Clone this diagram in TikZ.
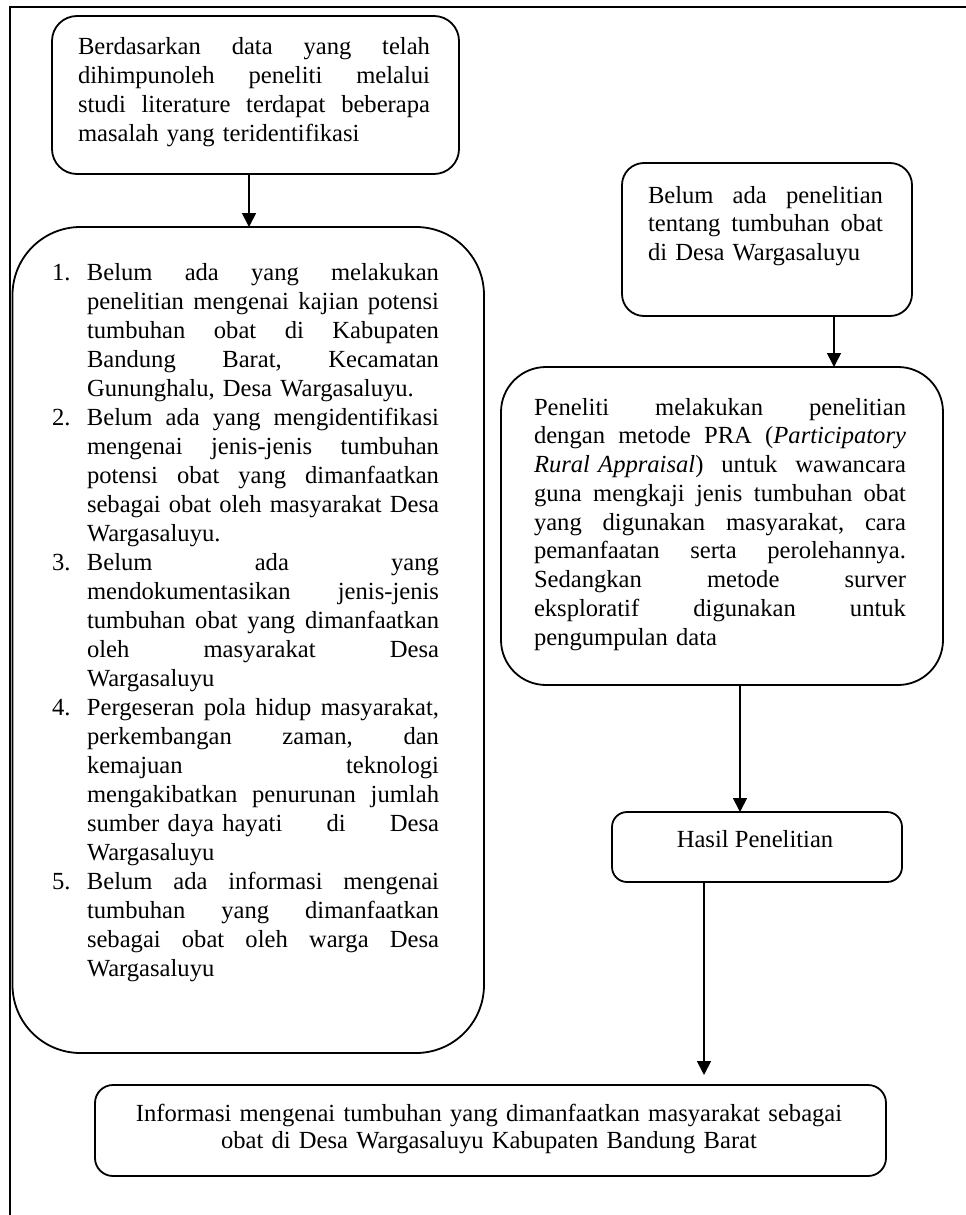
\documentclass[tikz,border=0pt]{standalone}
\usepackage{fontspec}
\setmainfont{Liberation Serif}
\usetikzlibrary{arrows.meta,calc}
\ExplSyntaxOn
\seq_new:N \l_rsk_words_seq
\cs_new_protected:Npn \rsk_spread:nn #1 #2
  {
    \seq_set_split:Nnn \l_rsk_words_seq { ~ } {#2}
    \hbox_to_wd:nn {#1} { \seq_use:Nn \l_rsk_words_seq { \hfill } }
  }
\NewDocumentCommand \spreadbox { m m } { \rsk_spread:nn {#1} {#2} }
\ExplSyntaxOff
% one justified line, one last (ragged) line
\newcommand\jline[1]{\noindent\spreadbox{\hsize}{#1}\par}
\newcommand\lastline[1]{\noindent\makebox[\hsize][l]{#1}\par}
% list lines: number column + justified / ragged text
\newcommand\itemjline[2]{\noindent\makebox[35pt][l]{#1}\spreadbox{352pt}{#2}\par}
\newcommand\itemlline[2]{\noindent\makebox[35pt][l]{#1}\makebox[352pt][l]{#2}\par}
\begin{document}
\begin{tikzpicture}[x=1pt,y=-1pt,
  shp/.style={draw, line width=1.8pt, inner sep=0pt, outer sep=0pt, anchor=north west},
  txt/.style={inner sep=0pt, outer sep=0pt, anchor=base west, font=\fontsize{24.6}{29}\selectfont},
  arr/.style={line width=1.7pt, -{Triangle[width=14pt,length=14pt]}},
  frm/.style={line width=1.8pt}]
\useasboundingbox (0,0) rectangle (966,1215);
\draw[frm] (10,1215) -- (10,7) -- (966,7);

% boxes
\node[shp, rounded corners=25pt, minimum width=407pt, minimum height=158pt] (b1) at (52,16) {};
\node[shp, rounded corners=68pt, minimum width=471.5pt, minimum height=826pt] (b2) at (12.5,227) {};
\node[shp, rounded corners=22pt, minimum width=290pt, minimum height=153pt] (b3) at (622,163) {};
\node[shp, rounded corners=45pt, minimum width=442pt, minimum height=318pt] (b4) at (501,367) {};
\node[shp, rounded corners=15pt, minimum width=290pt, minimum height=70pt] (hasil) at (612,812) {};
\node[shp, rounded corners=18pt, minimum width=791pt, minimum height=91pt] (fin) at (95,1085) {};

% texts
\node[txt, text width=352pt] (t1) at (78,55) {%
\jline{Berdasarkan data yang telah}
\jline{dihimpunoleh peneliti melalui}
\jline{studi literature terdapat beberapa}
\lastline{masalah yang teridentifikasi}};

\node[txt, text width=387pt] (t2) at (52,280) {%
\itemjline{1.}{Belum ada yang melakukan}
\itemjline{}{penelitian mengenai kajian potensi}
\itemjline{}{tumbuhan obat di Kabupaten}
\itemjline{}{Bandung Barat, Kecamatan}
\itemlline{}{Gununghalu, Desa Wargasaluyu.}
\itemjline{2.}{Belum ada yang mengidentifikasi}
\itemjline{}{mengenai jenis-jenis tumbuhan}
\itemjline{}{potensi obat yang dimanfaatkan}
\itemjline{}{sebagai obat oleh masyarakat Desa}
\itemlline{}{Wargasaluyu.}
\itemjline{3.}{Belum ada yang}
\itemjline{}{mendokumentasikan jenis-jenis}
\itemjline{}{tumbuhan obat yang dimanfaatkan}
\itemjline{}{oleh masyarakat Desa}
\itemlline{}{Wargasaluyu}
\itemjline{4.}{Pergeseran pola hidup masyarakat,}
\itemjline{}{perkembangan zaman, dan}
\itemjline{}{kemajuan teknologi}
\itemjline{}{mengakibatkan penurunan jumlah}
\itemjline{}{\mbox{sumber daya hayati} di Desa}
\itemlline{}{Wargasaluyu}
\itemjline{5.}{Belum ada informasi mengenai}
\itemjline{}{tumbuhan yang dimanfaatkan}
\itemjline{}{sebagai obat oleh warga Desa}
\itemlline{}{Wargasaluyu}};

\node[txt, text width=235pt, font=\fontsize{24.6}{28.5}\selectfont] (t3) at (648,203) {%
\jline{Belum ada penelitian}
\jline{tentang tumbuhan obat}
\lastline{di Desa Wargasaluyu}};

\node[txt, text width=372pt, font=\fontsize{24.6}{28.75}\selectfont] (t4) at (534,415) {%
\jline{Peneliti melakukan penelitian}
\jline{dengan metode PRA (\textit{Participatory}}
\jline{\textit{Rural Appraisal}) untuk wawancara}
\jline{guna mengkaji jenis tumbuhan obat}
\jline{yang digunakan masyarakat, cara}
\jline{pemanfaatan serta perolehannya.}
\jline{Sedangkan metode surver}
\jline{eksploratif digunakan untuk}
\lastline{pengumpulan data}};

\node[inner sep=0pt, anchor=base, font=\fontsize{24.6}{29}\selectfont] (t5) at (755,847) {Hasil Penelitian};

\node[inner sep=0pt, anchor=base, text width=780pt, align=center, font=\fontsize{24.6}{27}\selectfont] (t6) at (489,1121) {Informasi mengenai tumbuhan yang dimanfaatkan masyarakat sebagai\\ obat di Desa Wargasaluyu Kabupaten Bandung Barat};

% connectors
\coordinate (a1) at ([xshift=-6.5pt]b1.south);
\draw[arr] (a1) -- (a1 |- b2.north);
\coordinate (a2) at ([xshift=67pt]b3.south);
\draw[arr] (a2) -- (a2 |- b4.north);
\coordinate (a3) at ([xshift=18pt]b4.south);
\draw[arr] (a3) -- (a3 |- hasil.north);
\coordinate (a4) at ([xshift=-53pt]hasil.south);
\coordinate (a4e) at ($(a4 |- fin.north)+(0pt,10pt)$);
\draw[arr] (a4) -- (a4e);
\end{tikzpicture}
\end{document}
